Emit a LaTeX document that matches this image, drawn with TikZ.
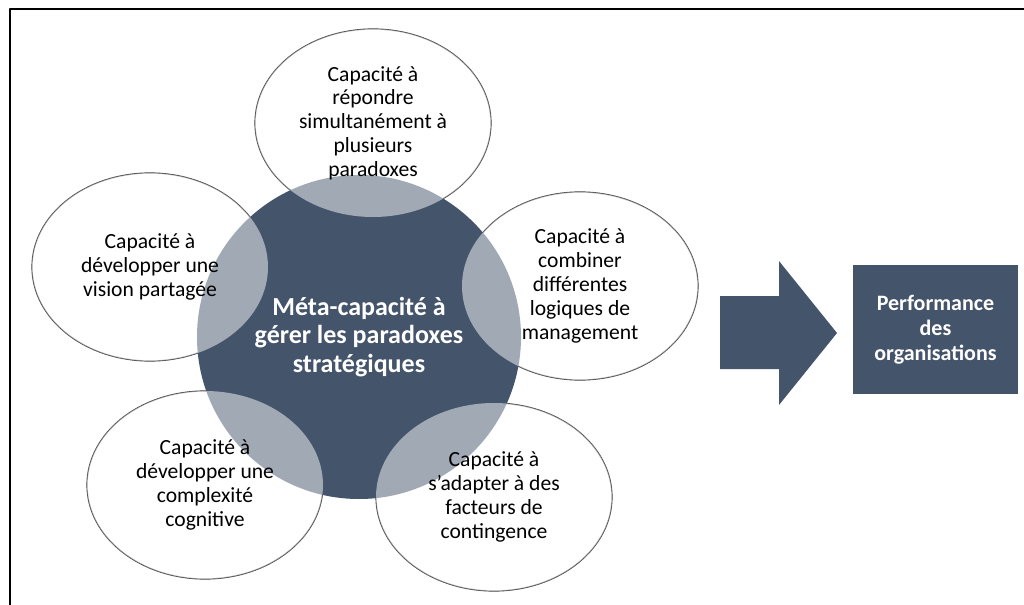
\documentclass[tikz,border=0pt]{standalone}
\usepackage{fontspec}
\setmainfont{Carlito}
\usetikzlibrary{shapes.geometric}
\definecolor{ardoise}{HTML}{44546A}
\definecolor{trait}{HTML}{404040}

\begin{document}
\begin{tikzpicture}[line cap=round,line join=round,x=0.5pt,y=-0.5pt,
  rim/.style={draw=trait,line width=0.6pt},
  capa/.style={ellipse,minimum width=118pt,minimum height=94pt,inner sep=0pt,fill=white,fill opacity=0.5,text opacity=1,align=center,font=\fontsize{10.8}{11.9}\selectfont},
  meta/.style={circle,minimum size=162pt,inner sep=0pt,fill=ardoise,text=white,align=center,font=\bfseries\fontsize{13}{14.2}\selectfont},
  perf/.style={rectangle,minimum width=82.5pt,minimum height=64.5pt,inner sep=0pt,fill=ardoise,text=white,align=center,font=\bfseries\fontsize{11}{12.5}\selectfont}]
\useasboundingbox (0,0) rectangle (1024,605);
\draw[line width=1pt,line cap=butt] (10,9) rectangle (1040,620);
\coordinate (c-repondre) at (373,123);
\coordinate (c-vision) at (150,267);
\coordinate (c-combiner) at (580,286);
\coordinate (c-complexite) at (205,485);
\coordinate (c-adapter) at (494,497);
\foreach \c in {c-repondre,c-vision,c-combiner,c-complexite,c-adapter}
  \draw[rim] (\c) ellipse [x radius=59pt,y radius=47pt];
\node[meta] (gerer) at (359,337) {Méta-capacité à\\gérer les paradoxes\\stratégiques};
\node[capa] (repondre) at (c-repondre) {Capacité à\\répondre\\simultanément à\\plusieurs\\paradoxes};
\node[capa] (vision) at (c-vision) {Capacité à\\développer une\\vision partagée};
\node[capa] (combiner) at (c-combiner) {Capacité à\\combiner\\différentes\\logiques de\\management};
\node[capa] (complexite) at (c-complexite) {Capacité à\\développer une\\complexité\\cognitive};
\node[capa] (adapter) at (c-adapter) {Capacité à\\s’adapter à des\\facteurs de\\contingence};
\fill[ardoise] (720,296) -- (779,296) -- (779,261) -- (837,333) -- (779,405) -- (779,369) -- (720,369) -- cycle;
\node[perf] (performance) at (935.5,329.5) {Performance\\des\\organisations};
\end{tikzpicture}
\end{document}
